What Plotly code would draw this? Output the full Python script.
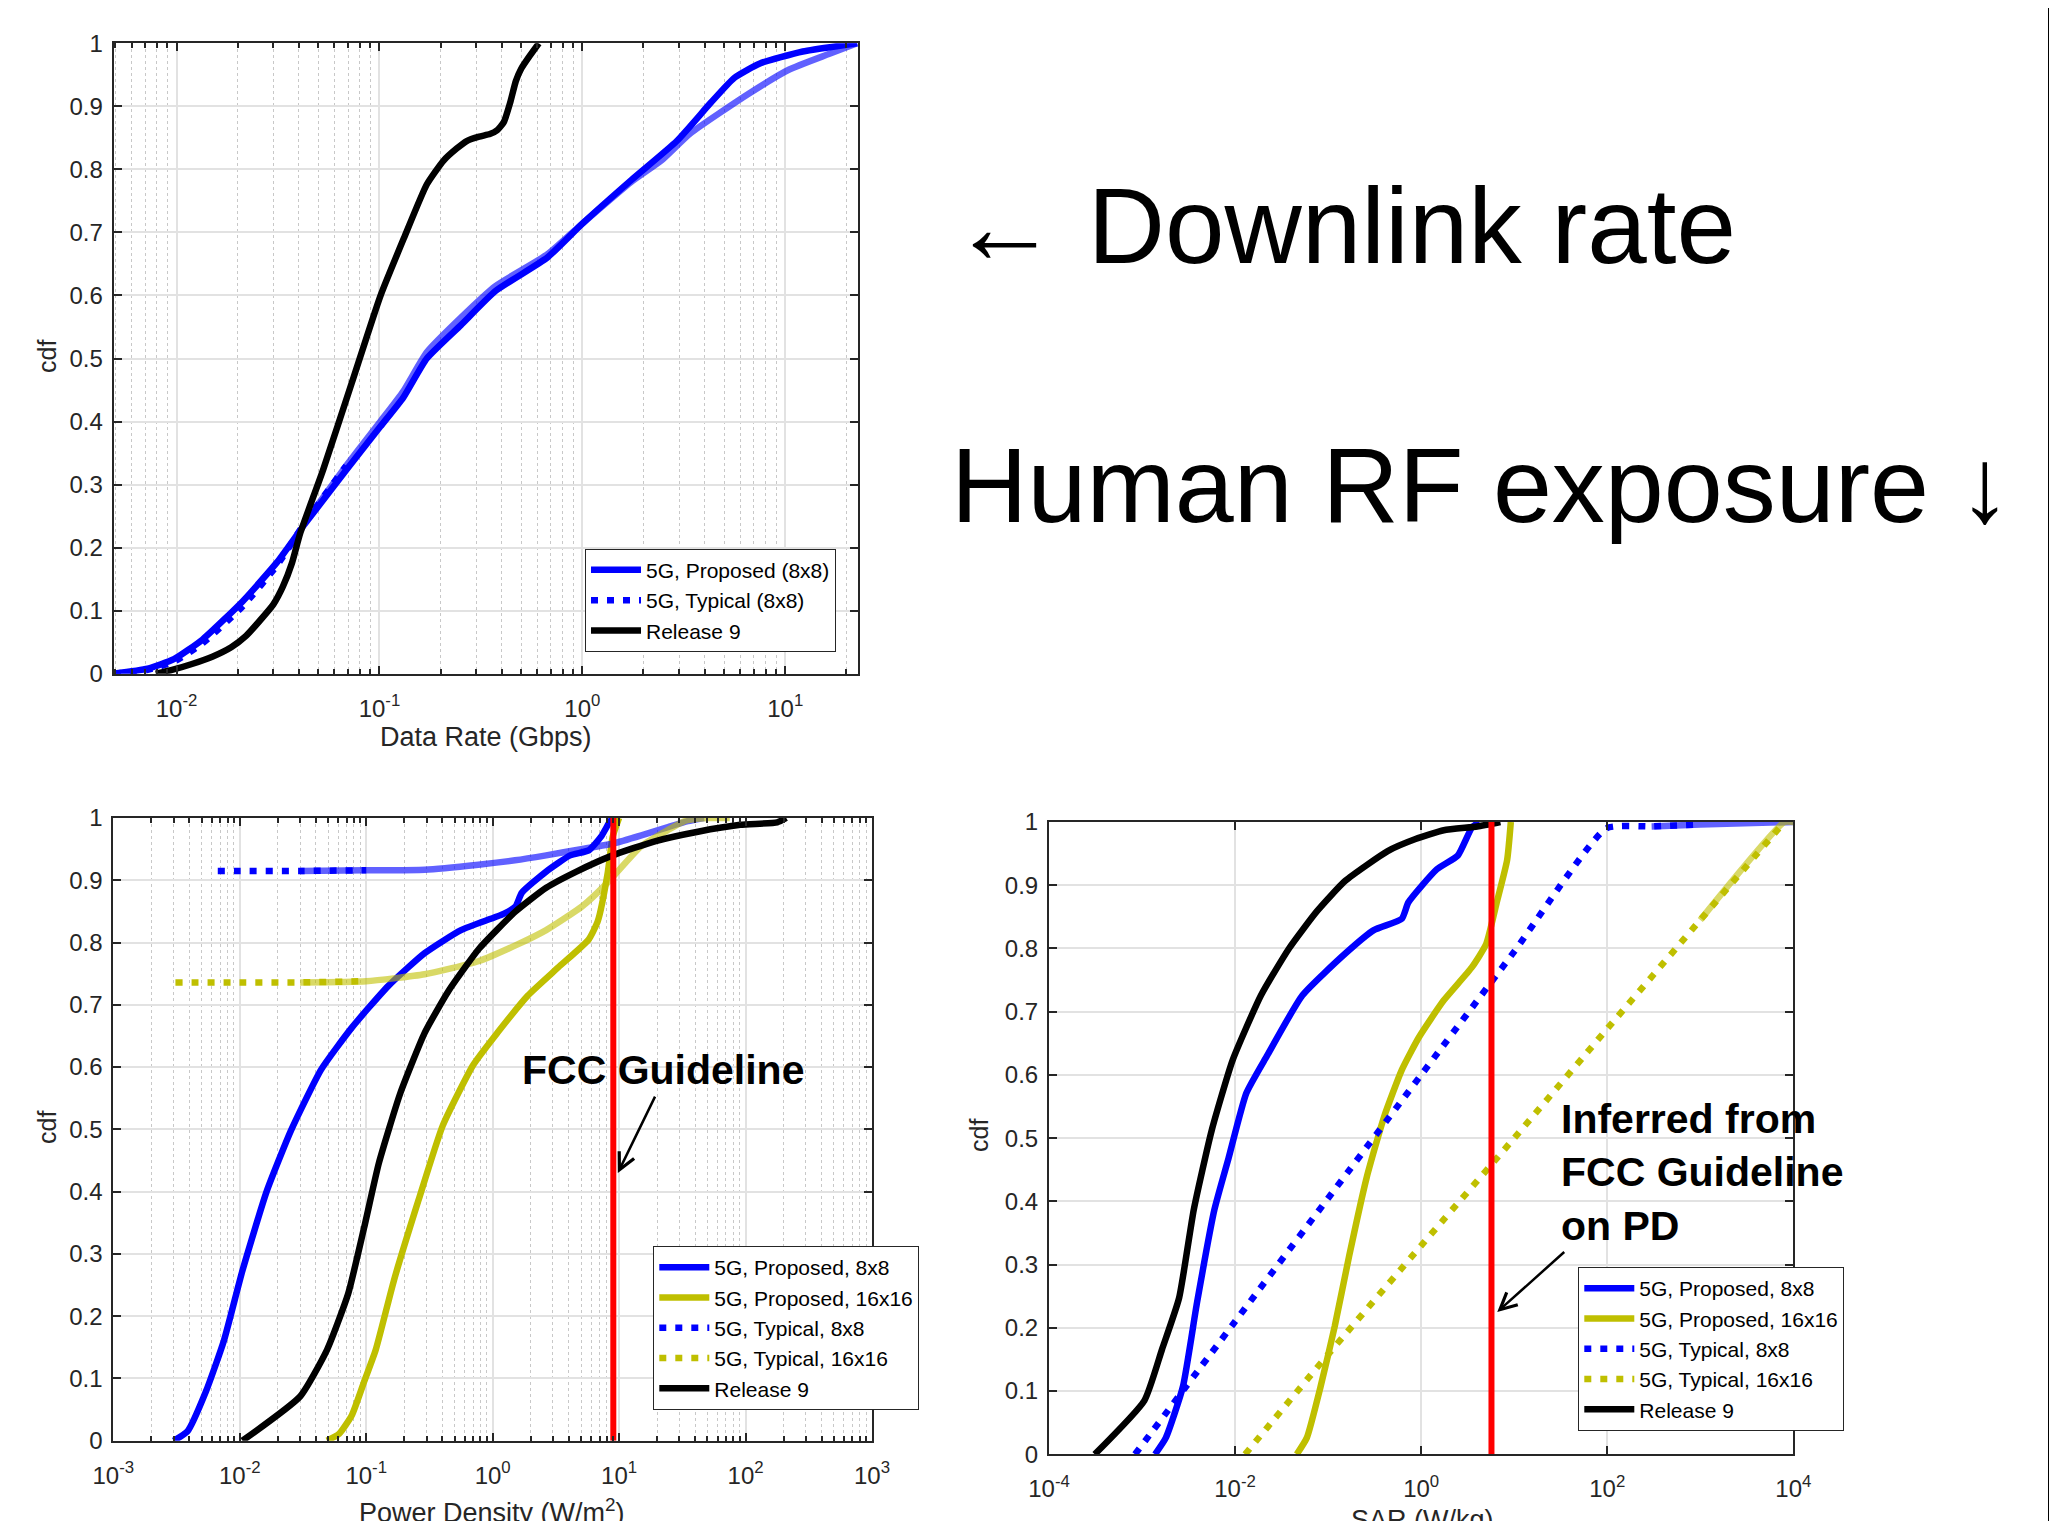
import math
import plotly.graph_objects as go

# ---------------- data: top panel (Data Rate, Gbps) ----------------
DR_PROP8_X = [0.0049, 0.0072, 0.0097, 0.0134, 0.0212, 0.0313, 0.043, 0.0686, 0.101, 0.131, 0.171,
              0.252, 0.373, 0.671, 1.0, 1.74, 2.92, 4.3, 5.6, 7.5, 12.2, 22.6]
DR_PROP8_Y = [0, 0.008, 0.023, 0.054, 0.115, 0.177, 0.238, 0.323, 0.392, 0.438, 0.5,
              0.553, 0.607, 0.66, 0.714, 0.783, 0.845, 0.906, 0.945, 0.968, 0.987, 1.0]
DR_TYP8_X = [0.0049, 0.0072, 0.0097, 0.0134, 0.0212, 0.0313, 0.043, 0.0686, 0.101, 0.131, 0.171,
             0.252, 0.373, 0.671, 1.0, 1.74, 2.45, 3.4, 6.6, 10.4, 16.4, 22.6]
DR_TYP8_Y = [0, 0.006, 0.019, 0.048, 0.107, 0.172, 0.24, 0.33, 0.40, 0.448, 0.51,
             0.565, 0.615, 0.665, 0.714, 0.78, 0.814, 0.857, 0.92, 0.958, 0.983, 1.0]
DR_REL9_X = [0.0079, 0.0095, 0.0118, 0.015, 0.0186, 0.022, 0.0257, 0.03, 0.0334, 0.037, 0.0407, 0.0527,
             0.073, 0.101, 0.132, 0.171, 0.207, 0.24, 0.269, 0.31, 0.35, 0.38, 0.41, 0.44, 0.47, 0.5,
             0.55, 0.61]
DR_REL9_Y = [0, 0.006, 0.015, 0.027, 0.042, 0.06, 0.084, 0.11, 0.138, 0.175, 0.223, 0.323,
             0.461, 0.599, 0.691, 0.776, 0.814, 0.833, 0.845, 0.852, 0.856, 0.862, 0.875, 0.905, 0.94, 0.96,
             0.98, 1.0]

# ---------------- data: bottom-left panel (Power Density, W/m^2) ----------------
PD_PROP8_X = [0.003, 0.00386, 0.0054, 0.0075, 0.0105, 0.0163, 0.0254, 0.044, 0.0767, 0.149, 0.29,
              0.562, 1.22, 1.52, 1.7, 2.65, 4.1, 5.75, 7.2, 8.5, 9.0]
PD_PROP8_Y = [0, 0.015, 0.079, 0.161, 0.273, 0.40, 0.498, 0.596, 0.663, 0.73, 0.783,
              0.82, 0.846, 0.858, 0.88, 0.914, 0.94, 0.948, 0.97, 0.995, 1.0]
PD_PROP16_X = [0.049, 0.061, 0.077, 0.096, 0.119, 0.166, 0.259, 0.403, 0.70, 1.09, 1.9, 3.3,
               5.75, 6.8, 8.1, 8.9, 10.0]
PD_PROP16_Y = [0, 0.011, 0.041, 0.094, 0.146, 0.258, 0.386, 0.506, 0.603, 0.655, 0.715, 0.76,
               0.805, 0.835, 0.91, 0.97, 1.0]
PD_TYP8_X = [0.0067, 0.01, 0.03, 0.1, 0.29, 0.77, 1.5, 2.65, 5.0, 9.0, 15, 24, 35, 47]
PD_TYP8_Y = [0.915, 0.915, 0.915, 0.916, 0.917, 0.925, 0.932, 0.94, 0.95, 0.959, 0.972, 0.985, 0.995, 1.0]
PD_TYP16_X = [0.0031, 0.01, 0.03, 0.1, 0.29, 0.77, 1.5, 2.65, 5.1, 8.0, 15, 24, 34, 50, 75]
PD_TYP16_Y = [0.736, 0.736, 0.736, 0.738, 0.749, 0.77, 0.795, 0.82, 0.858, 0.895, 0.955, 0.98, 0.996, 1.0, 1.0]
PD_REL9_X = [0.0105, 0.030, 0.049, 0.072, 0.096, 0.126, 0.186, 0.29, 0.45, 0.78, 1.52, 2.65,
             4.6, 8.9, 19.5, 42, 91, 178, 210]
PD_REL9_Y = [0, 0.071, 0.146, 0.236, 0.341, 0.446, 0.558, 0.655, 0.723, 0.79, 0.85, 0.888,
             0.914, 0.94, 0.963, 0.978, 0.989, 0.993, 1.0]
FCC_PD = 9.0

# ---------------- data: bottom-right panel (SAR, W/kg) ----------------
SAR_PROP8_X = [0.00138, 0.0018, 0.00275, 0.0039, 0.006, 0.0085, 0.0132, 0.022, 0.053, 0.153, 0.31,
               0.62, 0.73, 1.47, 2.48, 3.5, 4.2]
SAR_PROP8_Y = [0, 0.026, 0.107, 0.24, 0.387, 0.468, 0.571, 0.63, 0.726, 0.792, 0.829,
               0.847, 0.873, 0.925, 0.947, 0.991, 1.0]
SAR_PROP16_X = [0.046, 0.059, 0.083, 0.118, 0.168, 0.26, 0.40, 0.62, 0.95, 1.75, 3.5, 5.0, 6.5, 8.4, 9.2]
SAR_PROP16_Y = [0, 0.026, 0.107, 0.203, 0.313, 0.438, 0.534, 0.608, 0.66, 0.718, 0.77, 0.807, 0.873, 0.94, 1.0]
SAR_TYP8_X = [0.00084, 0.01, 0.1, 1, 10, 98, 300, 1000, 10000]
SAR_TYP8_Y = [0, 0.21, 0.405, 0.60, 0.795, 0.99, 0.993, 0.996, 1.0]
SAR_TYP16_X = [0.0128, 0.1, 1, 10, 100, 1000, 8000, 10000]
SAR_TYP16_Y = [0, 0.158, 0.33, 0.50, 0.673, 0.845, 1.0, 1.0]
SAR_REL9_X = [0.00031, 0.00106, 0.00164, 0.0025, 0.0036, 0.0056, 0.0094, 0.019, 0.038, 0.076, 0.153,
              0.437, 0.87, 1.75, 4.0, 7.1]
SAR_REL9_Y = [0, 0.085, 0.166, 0.247, 0.387, 0.512, 0.623, 0.726, 0.80, 0.859, 0.907,
              0.954, 0.973, 0.987, 0.993, 1.0]
FCC_SAR = 5.7

CDF_TICKS = [0, 0.1, 0.2, 0.3, 0.4, 0.5, 0.6, 0.7, 0.8, 0.9, 1]
CDF_LABELS = ["0", "0.1", "0.2", "0.3", "0.4", "0.5", "0.6", "0.7", "0.8", "0.9", "1"]

# ---------------- style ----------------
FONT = "Liberation Sans, Arial, Helvetica, sans-serif"
AX = "#262626"
BLUE = "#0000FF"
YEL = "#BFBF00"
BLUE_LIGHT = "rgba(0,0,255,0.62)"
YEL_LIGHT = "rgba(191,191,0,0.6)"
DOT = "7px,9px"
LW = 6.5
W, H = 2057, 1521
OFF = 8  # page body margin

fig = go.Figure()


def add_line(x, y, color, xa, ya, name=None, legend="legend", dash="solid", showlegend=True, width=LW,
             smooth=True):
    line = dict(color=color, width=width, dash=dash)
    if smooth:
        line.update(shape="spline", smoothing=0.5)
    fig.add_trace(go.Scatter(x=x, y=y, mode="lines", name=name, legend=legend, showlegend=showlegend,
                             line=line, xaxis=xa, yaxis=ya, hoverinfo="skip"))


def add_typical(x, y, color, light, thr, xa, ya, name, legend):
    # sparse part drawn dotted, dense part rendered as light solid (as in the original)
    i = max(k for k, v in enumerate(x) if v <= thr)
    add_line(x[:i + 2], y[:i + 2], color, xa, ya, name=name, legend=legend, dash=DOT)
    if i + 1 < len(x):
        add_line(x[i:], y[i:], light, xa, ya, showlegend=False)


# top panel
add_line(DR_PROP8_X, DR_PROP8_Y, BLUE, "x", "y", "5G, Proposed (8x8)", "legend")
add_typical(DR_TYP8_X, DR_TYP8_Y, BLUE, BLUE_LIGHT, 0.045, "x", "y", "5G, Typical (8x8)", "legend")
add_line(DR_REL9_X, DR_REL9_Y, "black", "x", "y", "Release 9", "legend")

# bottom-left panel
add_line(PD_PROP8_X, PD_PROP8_Y, BLUE, "x2", "y2", "5G, Proposed, 8x8", "legend2")
add_line(PD_PROP16_X, PD_PROP16_Y, YEL, "x2", "y2", "5G, Proposed, 16x16", "legend2")
add_typical(PD_TYP8_X, PD_TYP8_Y, BLUE, BLUE_LIGHT, 0.08, "x2", "y2", "5G, Typical, 8x8", "legend2")
add_typical(PD_TYP16_X, PD_TYP16_Y, YEL, YEL_LIGHT, 0.05, "x2", "y2", "5G, Typical, 16x16", "legend2")
add_line(PD_REL9_X, PD_REL9_Y, "black", "x2", "y2", "Release 9", "legend2")
add_line([FCC_PD, FCC_PD], [0, 1], "red", "x2", "y2", showlegend=False, width=6, smooth=False)

# bottom-right panel
add_line(SAR_PROP8_X, SAR_PROP8_Y, BLUE, "x3", "y3", "5G, Proposed, 8x8", "legend3")
add_line(SAR_PROP16_X, SAR_PROP16_Y, YEL, "x3", "y3", "5G, Proposed, 16x16", "legend3")
add_typical(SAR_TYP8_X, SAR_TYP8_Y, BLUE, BLUE_LIGHT, 300, "x3", "y3", "5G, Typical, 8x8", "legend3")
add_typical(SAR_TYP16_X, SAR_TYP16_Y, YEL, YEL_LIGHT, 5000, "x3", "y3", "5G, Typical, 16x16", "legend3")
add_line(SAR_REL9_X, SAR_REL9_Y, "black", "x3", "y3", "Release 9", "legend3")
add_line([FCC_SAR, FCC_SAR], [0, 1], "red", "x3", "y3", showlegend=False, width=6, smooth=False)


def pow_label(e):
    return "10<sup>%d</sup>" % e


def minor_vals(e0, e1):
    return [m * 10 ** e for e in range(e0, e1) for m in range(2, 10)]


TICKFONT = dict(family=FONT, size=24, color=AX)


def xaxis(domain, rng, exps, anchor, minor=True):
    d = dict(type="log", domain=domain, range=rng, anchor=anchor,
             tickmode="array", tickvals=[10 ** e for e in exps], ticktext=[pow_label(e) for e in exps],
             ticks="inside", ticklen=8, tickwidth=2, tickcolor=AX, mirror="ticks",
             showline=True, linecolor=AX, linewidth=2, showgrid=True, gridcolor="#e2e2e2", gridwidth=1.5,
             tickfont=TICKFONT, zeroline=False, ticklabelstandoff=12, automargin=False)
    if minor:
        lo, hi = math.floor(rng[0]), math.ceil(rng[1])
        d["minor"] = dict(tickmode="array", tickvals=minor_vals(lo, hi), ticks="inside", ticklen=5,
                          tickwidth=1.5, tickcolor=AX, showgrid=True, gridcolor="#c8c8c8",
                          griddash="dot", gridwidth=1)
    return d


def yaxis(domain, anchor):
    return dict(domain=domain, range=[0, 1], anchor=anchor, tickmode="array", tickvals=CDF_TICKS,
                ticktext=CDF_LABELS, ticks="inside", ticklen=8, tickwidth=2, tickcolor=AX, mirror="ticks",
                showline=True, linecolor=AX, linewidth=2, showgrid=True, gridcolor="#e2e2e2",
                gridwidth=1.5, tickfont=TICKFONT, zeroline=False, ticklabelstandoff=4, automargin=False)


def px_x(p):
    return (p - OFF) / W


def px_y(p):
    return (H - (p - OFF)) / H


fig.update_layout(
    width=W, height=H, autosize=False,
    margin=dict(l=0, r=0, t=0, b=0, pad=0, autoexpand=False),
    paper_bgcolor="white", plot_bgcolor="white",
    font=dict(family=FONT, color=AX),
    xaxis=xaxis([px_x(113.7), px_x(858.3)], [math.log10(0.0049), math.log10(22.9)], [-2, -1, 0, 1], "y"),
    yaxis=yaxis([px_y(673.7), px_y(43.3)], "x"),
    xaxis2=xaxis([px_x(113.3), px_x(872)], [-3, 3], [-3, -2, -1, 0, 1, 2, 3], "y2"),
    yaxis2=yaxis([px_y(1440.7), px_y(818)], "x2"),
    xaxis3=xaxis([px_x(1049), px_x(1793.3)], [-4, 4], [-4, -2, 0, 2, 4], "y3", minor=False),
    yaxis3=yaxis([px_y(1454.3), px_y(822)], "x3"),
)

LEG = dict(bgcolor="white", bordercolor=AX, borderwidth=1, font=dict(family=FONT, size=21, color="black"),
           xanchor="right", yanchor="bottom", tracegroupgap=0, itemwidth=50)
fig.update_layout(
    legend=dict(LEG, x=px_x(836), y=px_y(651.7)),
    legend2=dict(LEG, x=px_x(919.3), y=px_y(1410)),
    legend3=dict(LEG, x=px_x(1844.3), y=px_y(1431)),
)

ann = []
# axis titles
ann.append(dict(text="Data Rate (Gbps)", x=px_x(486), y=px_y(737), xref="paper", yref="paper",
                showarrow=False, font=dict(size=27, color=AX), xanchor="center", yanchor="middle"))
ann.append(dict(text="Power Density (W/m<sup>2</sup>)", x=px_x(492), y=px_y(1511), xref="paper", yref="paper",
                showarrow=False, font=dict(size=27, color=AX), xanchor="center", yanchor="middle"))
ann.append(dict(text="SAR (W/kg)", x=px_x(1422), y=px_y(1520), xref="paper", yref="paper",
                showarrow=False, font=dict(size=27, color=AX), xanchor="center", yanchor="middle"))
for yy, xx in [(357, 47), (1128, 47), (1136, 979)]:
    ann.append(dict(text="cdf", x=px_x(xx), y=px_y(yy), xref="paper", yref="paper", textangle=-90,
                    showarrow=False, font=dict(size=25, color=AX), xanchor="center", yanchor="middle"))

# big side texts
ann.append(dict(text="\u2190 Downlink rate", x=px_x(949), y=px_y(226), xref="paper", yref="paper",
                showarrow=False, font=dict(size=107, color="black"), xanchor="left", yanchor="middle"))
ann.append(dict(text="Human RF exposure \u2193", x=px_x(949), y=px_y(485), xref="paper", yref="paper",
                showarrow=False, font=dict(size=106, color="black"), xanchor="left", yanchor="middle"))

# panel annotations
ann.append(dict(text="<b>FCC Guideline</b>", x=0.22, y=0.596, xref="x2", yref="y2", showarrow=False,
                font=dict(size=41, color="black"), xanchor="left", yanchor="middle"))
ann.append(dict(text="", x=0.99, y=0.43, ax=1.29, ay=0.555, xref="x2", yref="y2", axref="x2", ayref="y2",
                showarrow=True, arrowhead=5, arrowsize=1.3, arrowwidth=2.5, arrowcolor="black"))
ann.append(dict(text="<b>Inferred from<br>FCC Guideline<br>on PD</b>", x=1.478, y=0.446, xref="x3", yref="y3",
                showarrow=False, font=dict(size=41, color="black"), xanchor="left", yanchor="middle",
                align="left"))
ann.append(dict(text="", x=0.818, y=0.225, ax=1.554, ay=0.322, xref="x3", yref="y3", axref="x3", ayref="y3",
                showarrow=True, arrowhead=5, arrowsize=1.3, arrowwidth=2.5, arrowcolor="black"))
fig.update_layout(annotations=ann)

fig.add_shape(type="line", xref="paper", yref="paper", x0=px_x(2049), x1=px_x(2049), y0=0, y1=1,
              line=dict(color="black", width=2))

fig.write_html("out.html")
